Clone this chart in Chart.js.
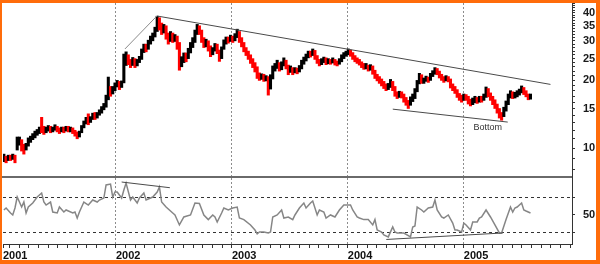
<!DOCTYPE html>
<html><head><meta charset="utf-8">
<script src="https://cdn.jsdelivr.net/npm/chart.js@4/dist/chart.umd.min.js"></script>
<style>
html,body{margin:0;padding:0;background:#fff;}
#wrap{position:relative;width:600px;height:264px;overflow:hidden;background:#fff;}
#top{position:absolute;left:0;top:0;}
#bot{position:absolute;left:0;top:178px;}
#frame{position:absolute;left:0;top:0;width:600px;height:264px;box-sizing:border-box;border-style:solid;border-color:#ff6c0a;border-width:3px 4px 4px 2px;pointer-events:none;}
</style></head><body>
<div id="wrap"><canvas id="top" width="600" height="178"></canvas><canvas id="bot" width="600" height="86"></canvas><div id="frame"></div></div>
<script>
// x unit: months since Jan 2001; weekly bars
const weekStart = 0.4;
const monthsPerWeek = 12 / 52.18;
const yearLabels = ['2001', '2002', '2003', '2004', '2005'];
const priceTicks = [10, 15, 20, 25, 30, 35, 40];

const closes = [
 9.0, 8.9, 9.1, 9.0, 9.2, 8.9, 10.5, 10.8, 10.2, 9.9,
 10.3, 10.9, 11.0, 11.3, 11.6, 11.8, 12.0, 11.9, 11.8, 12.1,
 12.3, 12.0, 12.2, 12.4, 12.1, 11.9, 12.2, 12.0, 12.3, 12.1,
 12.2, 11.9, 11.7, 11.4, 11.7, 12.4, 12.9, 13.4, 13.1, 13.6,
 14.0, 13.8, 14.1, 14.5, 15.0, 15.4, 16.5, 18.0, 17.6, 18.3,
 19.0, 19.5, 18.8, 19.4, 24.0, 25.5, 24.3, 23.6, 24.8, 23.6,
 24.2, 25.0, 27.0, 28.3, 27.6, 29.5, 30.6, 31.6, 33.5, 36.0,
 35.0, 33.0, 34.5, 31.5, 30.0, 32.0, 30.5, 31.0, 29.0, 23.5,
 24.5, 25.8, 25.0, 27.0, 28.5, 30.0, 32.5, 34.5, 33.0, 30.5,
 29.0, 29.5, 28.0, 26.5, 27.5, 28.5, 27.0, 25.0, 27.5, 29.5,
 30.5, 30.0, 31.0, 30.2, 31.5, 32.5, 30.5, 29.0, 27.5, 26.5,
 25.5, 24.5, 23.5, 22.5, 21.0, 20.6, 20.9, 20.3, 20.6, 18.5,
 20.5, 22.5, 23.0, 23.6, 22.6, 23.5, 24.2, 23.0, 22.0, 22.6,
 21.8, 22.3, 22.0, 22.8, 24.0, 24.8, 25.5, 26.5, 26.0, 27.0,
 25.5, 24.5, 23.8, 24.5, 24.8, 24.0, 24.5, 24.2, 24.6, 24.0,
 23.8, 24.5, 25.5, 26.0, 26.5, 27.0, 26.3, 25.5, 24.8, 24.5,
 24.0, 23.5, 23.0, 23.2, 22.6, 23.0, 22.0, 21.0, 20.5, 20.0,
 19.5, 19.0, 18.5, 18.9, 19.5, 18.5, 17.5, 17.0, 17.5, 17.2,
 16.5, 16.0, 15.5, 16.5, 16.8, 18.0, 19.5, 21.0, 20.0, 20.1,
 20.4, 20.1, 21.0, 21.6, 22.3, 21.8, 21.0, 20.5, 20.3, 20.6,
 20.2, 19.0, 18.5, 18.0, 17.2, 16.8, 16.5, 17.0, 16.8, 16.2,
 15.8, 16.3, 16.5, 16.3, 16.6, 16.5, 17.0, 18.2, 17.3, 16.8,
 16.2, 15.5, 14.8, 14.2, 13.8, 14.8, 15.8, 17.0, 17.5, 17.0,
 17.3, 17.5, 17.8, 18.4, 17.7, 17.3, 16.8, 17.0
];
const lows = [
 8.7, 8.6, 8.8, 8.8, 8.9, 8.6, 9.8, 10.3, 9.7, 9.4,
 9.8, 10.2, 10.6, 10.9, 11.1, 11.4, 11.6, 11.7, 11.5, 11.7,
 11.9, 11.7, 11.8, 12.0, 11.8, 11.6, 11.8, 11.7, 11.9, 11.8,
 11.8, 11.6, 11.3, 11.0, 11.2, 11.7, 12.3, 12.8, 12.7, 13.0,
 13.4, 13.4, 13.6, 14.0, 14.3, 14.8, 15.2, 16.4, 17.0, 17.4,
 18.0, 18.7, 18.2, 18.6, 19.5, 23.3, 23.5, 22.8, 23.3, 22.8,
 23.2, 24.0, 24.8, 26.6, 26.8, 27.5, 29.0, 30.0, 31.2, 33.0,
 33.5, 32.0, 32.5, 30.5, 29.0, 29.8, 29.5, 29.8, 27.5, 22.2,
 23.0, 24.0, 24.2, 25.0, 26.5, 28.0, 29.5, 32.0, 32.0, 29.5,
 28.0, 28.2, 27.0, 25.5, 26.0, 27.0, 26.3, 24.3, 25.0, 27.5,
 29.0, 29.3, 29.8, 29.5, 30.0, 31.0, 29.5, 28.2, 26.8, 25.8,
 24.8, 23.8, 22.8, 21.8, 20.4, 20.0, 20.2, 19.8, 19.9, 17.2,
 18.3, 20.3, 22.0, 22.6, 22.0, 22.3, 23.2, 22.5, 21.2, 21.7,
 21.2, 21.6, 21.4, 21.8, 22.5, 23.6, 24.4, 25.2, 25.4, 25.8,
 24.8, 23.8, 23.2, 23.5, 24.0, 23.5, 23.7, 23.6, 23.9, 23.4,
 23.2, 23.6, 24.2, 25.0, 25.6, 26.0, 25.6, 24.8, 24.2, 23.8,
 23.4, 22.8, 22.4, 22.5, 22.0, 22.2, 21.3, 20.4, 19.9, 19.4,
 18.9, 18.4, 18.0, 18.2, 18.6, 18.0, 17.0, 16.6, 16.8, 16.7,
 16.0, 15.5, 15.0, 15.5, 16.1, 16.6, 17.8, 19.3, 19.4, 19.4,
 19.8, 19.6, 20.0, 20.8, 21.3, 21.2, 20.5, 20.0, 19.6, 19.9,
 19.7, 18.5, 18.0, 17.5, 16.8, 16.3, 16.0, 16.3, 16.3, 15.7,
 15.4, 15.6, 15.9, 15.8, 16.0, 16.0, 16.3, 16.8, 16.9, 16.3,
 15.6, 15.0, 14.3, 13.6, 13.3, 13.8, 14.6, 15.6, 16.7, 16.6,
 16.7, 16.9, 17.2, 17.6, 17.3, 16.9, 16.4, 16.5
];
const highs = [
 9.4, 9.2, 9.3, 9.3, 9.4, 9.3, 11.2, 11.2, 10.9, 10.4,
 10.5, 11.1, 11.3, 11.6, 11.9, 12.1, 12.4, 13.7, 12.5, 12.4,
 12.6, 12.5, 12.4, 12.7, 12.5, 12.3, 12.4, 12.4, 12.5, 12.5,
 12.4, 12.3, 12.0, 11.8, 11.9, 12.6, 13.2, 13.7, 14.2, 13.8,
 14.3, 14.4, 14.4, 14.8, 15.3, 15.8, 17.2, 20.7, 18.8, 18.8,
 19.5, 20.0, 19.8, 19.9, 26.2, 26.8, 26.0, 24.8, 25.3, 25.0,
 24.8, 25.6, 27.6, 29.0, 29.0, 30.2, 31.5, 32.5, 34.5, 38.6,
 38.0, 36.0, 35.5, 35.0, 32.5, 33.0, 32.5, 32.0, 31.5, 29.5,
 25.5, 26.5, 26.5, 27.8, 29.5, 31.0, 33.5, 35.5, 35.0, 33.5,
 31.0, 30.5, 30.0, 28.5, 28.0, 29.2, 29.0, 27.3, 28.2, 30.3,
 31.2, 31.2, 31.8, 31.5, 32.3, 33.8, 33.0, 31.0, 29.5, 28.0,
 27.0, 26.0, 25.0, 24.0, 23.0, 21.6, 21.4, 21.3, 21.0, 20.8,
 21.2, 23.2, 23.8, 24.6, 24.0, 24.2, 25.2, 24.6, 23.4, 23.2,
 22.8, 22.8, 22.7, 23.3, 24.6, 25.4, 26.2, 27.0, 27.0, 27.6,
 27.2, 25.8, 24.8, 25.0, 25.4, 25.2, 25.0, 24.8, 25.2, 24.8,
 24.4, 25.0, 26.0, 26.6, 27.0, 27.6, 27.3, 26.6, 25.8, 25.2,
 24.8, 24.2, 23.8, 23.8, 23.4, 23.5, 23.2, 22.2, 21.3, 20.8,
 20.3, 19.8, 19.3, 19.4, 20.2, 19.8, 18.8, 17.8, 17.9, 17.8,
 17.4, 16.8, 16.3, 16.9, 17.4, 18.4, 20.0, 21.5, 21.2, 20.5,
 20.9, 20.7, 21.5, 22.1, 22.8, 22.6, 22.0, 21.3, 20.8, 21.0,
 20.8, 20.3, 19.3, 18.8, 18.2, 17.5, 17.2, 17.4, 17.3, 17.0,
 16.5, 16.7, 17.0, 16.8, 17.0, 17.0, 17.4, 18.7, 18.4, 17.6,
 17.0, 16.4, 15.7, 15.0, 14.4, 15.2, 16.2, 17.4, 18.0, 17.8,
 17.7, 18.0, 18.3, 18.9, 18.6, 18.0, 17.4, 17.4
];

const rsiWeeks = [0,1,3,4,5,6,8,9,10,11,13,15,17,18,19,21,22,24,25,27,28,31,32,33,34,36,38,40,42,43,45,46,48,49,50,51,53,54,55,57,58,60,61,63,64,67,69,70,71,73,76,77,79,81,84,86,88,90,92,94,95,96,98,99,101,103,105,106,108,111,113,114,115,117,119,120,121,123,125,126,128,130,131,133,135,136,138,139,141,142,144,145,147,149,151,153,156,157,159,160,162,164,166,167,168,170,171,173,175,176,177,178,180,183,184,185,186,188,189,191,193,194,195,197,198,200,202,203,204,206,207,208,210,211,213,214,215,217,219,221,223,224,226,228,229,230,231,233,234,235,237];
const rsiValues = [55.5,57.8,52.1,49.8,57.8,70.3,58.9,64.6,52.1,58.9,63.5,70.3,74.9,64.6,61.2,64.6,53.2,52.1,58.9,53.2,55.5,52.1,53.2,46.3,53.2,64.6,61.2,66.9,64.6,66.9,69.2,84.1,85.2,70.3,76.1,76.1,69.2,78.3,86.3,66.9,70.3,63.5,69.2,74.9,66.9,70.3,76.1,81.8,64.6,58.9,52.1,49.8,38.4,47.5,49.8,63.5,63.0,49.8,44.5,49.8,47.5,41.8,52.1,57.8,55.5,57.8,58.9,46.3,44.5,38.4,32.6,28.1,30.3,30.3,29.2,30.3,47.5,49.8,55.5,46.3,47.5,44.5,49.8,57.8,63.5,57.8,63.5,65.8,49.8,55.5,53.2,46.3,49.8,47.5,55.5,61.2,61.2,55.5,47.5,46.3,44.5,44.5,38.4,44.5,32.6,30.3,26.9,24.7,36.1,30.3,29.2,29.2,29.2,24.7,36.1,37.2,58.9,55.5,53.2,57.8,58.9,66.9,55.5,47.5,46.3,49.8,40.6,32.6,32.6,30.3,40.6,38.4,32.6,41.8,41.8,46.3,47.5,55.5,47.5,38.4,29.2,29.2,44.5,58.9,53.2,57.8,58.9,63.5,55.5,54.3,52.1];

// trend lines (x in months since Jan 2001, y in price / RSI units)
const priceTrendLeft  = [{x: 12.93, y: 27.6}, {x: 16.24, y: 38.7}];
const priceTrendUpper = [{x: 16.24, y: 38.7}, {x: 56.97, y: 19.2}];
const priceTrendLower = [{x: 40.65, y: 14.9}, {x: 52.55, y: 13.05}];
const rsiTrendUpper   = [{x: 12.59, y: 87.5}, {x: 17.58, y: 81.0}];
const rsiTrendLower   = [{x: 39.98, y: 21.8}, {x: 52.03, y: 29.2}];
const bottomNote = {text: 'Bottom', x: 50.48, y: 12.4};

const xMin = 0.31, xMax = 59.2;
Chart.defaults.font.family = "'Liberation Sans', Arial, sans-serif";
const wk = i => weekStart + i * monthsPerWeek;
const barData = closes.map((c, i) => ({x: wk(i), y: [lows[i], highs[i]]}));
const barColors = closes.map((c, i) => (i > 0 && c < closes[i - 1]) ? '#ff0000' : '#000000');
const fixY = w => s => { s.width = w; s.paddingTop = 0; s.paddingBottom = 0; };
const labelFont = {size: 11, weight: 'bold'};
const line = (data, color, width) => ({type: 'line', data, borderColor: color, borderWidth: width, pointRadius: 0, tension: 0, fill: false, order: 0});

const overlay = {
  id: 'overlay',
  afterDraw(chart) {
    const {ctx, chartArea, scales} = chart;
    ctx.save();
    ctx.strokeStyle = '#6a6a6a';
    ctx.lineWidth = 2;
    ctx.beginPath();
    ctx.moveTo(0, chartArea.bottom - 1);
    ctx.lineTo(chartArea.right, chartArea.bottom - 1);
    ctx.stroke();
    ctx.fillStyle = '#333';
    ctx.font = "9px 'Liberation Sans', Arial, sans-serif";
    ctx.textAlign = 'center';
    ctx.textBaseline = 'middle';
    ctx.fillText(bottomNote.text, scales.x.getPixelForValue(bottomNote.x), scales.y.getPixelForValue(bottomNote.y));
    ctx.restore();
  }
};

new Chart(document.getElementById('top'), {
  type: 'bar',
  data: {datasets: [
    line(priceTrendUpper, '#4a4a4a', 1),
    line(priceTrendLeft, '#8a8a8a', 1),
    line(priceTrendLower, '#4a4a4a', 1),
    {type: 'bar', data: barData, backgroundColor: barColors, barThickness: 2.4, order: 1}
  ]},
  options: {
    responsive: false, animation: false, events: [],
    layout: {padding: {left: 3, top: 3, right: 0, bottom: 0}},
    plugins: {legend: {display: false}, tooltip: {enabled: false}},
    scales: {
      x: {type: 'linear', min: xMin, max: xMax, offset: false,
        afterBuildTicks: s => { s.ticks = [12, 24, 36, 48].map(v => ({value: v})); },
        grid: {offset: false, color: '#8c8c8c', lineWidth: 1, drawTicks: false},
        border: {display: false, dash: [2, 2]},
        ticks: {display: false},
        afterFit: s => { s.height = 0; s.paddingLeft = 0; s.paddingRight = 0; }},
      y: {type: 'logarithmic', position: 'right', min: 7.36, max: 44.2,
        afterBuildTicks: s => { const t = []; for (let v = 8; v <= 44; v++) t.push({value: v}); s.ticks = t; },
        ticks: {autoSkip: false, padding: 8, color: '#1a1a1a', font: labelFont,
          callback: v => priceTicks.includes(v) ? String(v) : ''},
        grid: {drawOnChartArea: false, tickLength: 3, tickColor: '#333'},
        border: {display: true, color: '#333', width: 1},
        afterFit: fixY(28)}
    }
  },
  plugins: [overlay]
});

new Chart(document.getElementById('bot'), {
  type: 'line',
  data: {datasets: [
    line(rsiTrendUpper, '#4a4a4a', 1),
    line(rsiTrendLower, '#4a4a4a', 1),
    {data: rsiWeeks.map((w, i) => ({x: wk(w), y: rsiValues[i]})), borderColor: '#868686', borderWidth: 1.5, pointRadius: 0, tension: 0, fill: false, order: 1}
  ]},
  options: {
    responsive: false, animation: false, events: [],
    layout: {padding: {left: 3, top: 0, right: 0, bottom: 0}},
    plugins: {legend: {display: false}, tooltip: {enabled: false}},
    scales: {
      x: {type: 'linear', min: xMin, max: xMax, offset: false,
        afterBuildTicks: s => { const t = [{value: xMin}]; for (let m = 1; m <= 59; m++) t.push({value: m}); s.ticks = t; },
        ticks: {autoSkip: false, maxRotation: 0, align: 'start', padding: 1, color: '#111', font: labelFont,
          callback: v => v === xMin ? yearLabels[0] : (v % 12 === 0 ? yearLabels[v / 12] : '')},
        grid: {offset: false, color: c => (c.tick && c.tick.value % 12 === 0) ? '#8c8c8c' : 'rgba(0,0,0,0)', tickColor: '#333', tickLength: 4, lineWidth: 1},
        border: {display: true, color: '#333', width: 1, dash: [2, 2]},
        afterFit: s => { s.height = 20; s.paddingLeft = 0; s.paddingRight = 0; }},
      y: {type: 'linear', position: 'right', min: 16.6, max: 92.1,
        afterBuildTicks: s => { s.ticks = [30, 50, 70].map(v => ({value: v})); },
        ticks: {autoSkip: false, padding: 8, color: '#1a1a1a', font: labelFont, callback: v => v === 50 ? '50' : ''},
        grid: {color: c => (c.tick && c.tick.value !== 50) ? '#333' : 'rgba(0,0,0,0)', tickLength: 3, tickColor: '#333'},
        border: {display: true, color: '#333', width: 1, dash: [3, 3]},
        afterFit: fixY(28)}
    }
  }
});
</script>
</body></html>
